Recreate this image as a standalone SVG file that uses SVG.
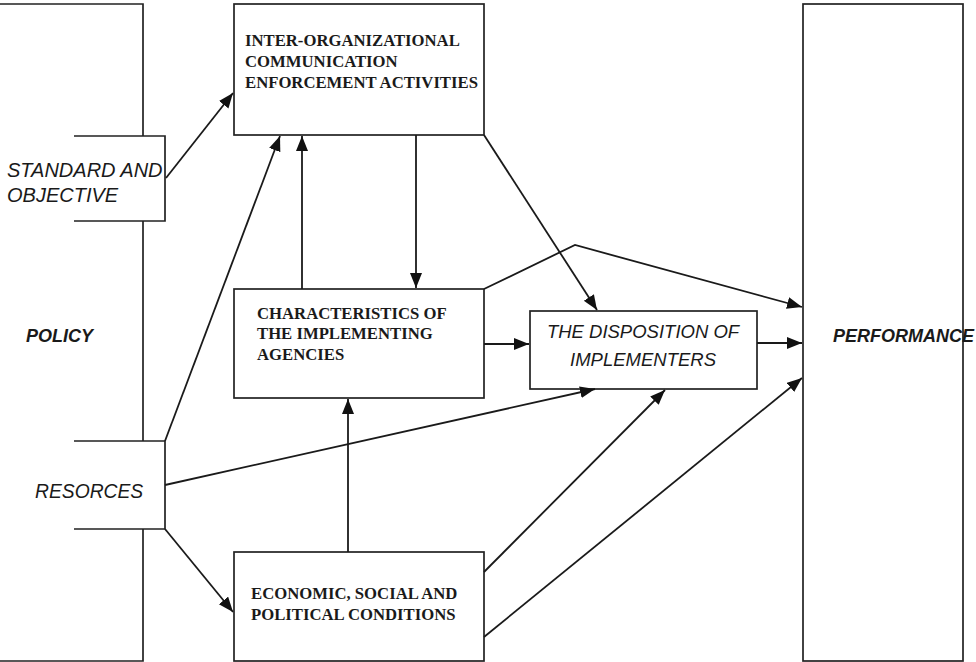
<svg xmlns="http://www.w3.org/2000/svg" width="976" height="662" viewBox="0 0 976 662">
<style>
.box{fill:none;stroke:#222;stroke-width:1.7}
.ln{fill:none;stroke:#1a1a1a;stroke-width:1.8;marker-end:url(#ah)}
.sans{font-family:"Liberation Sans",Arial,sans-serif;fill:#1a1a1a}
.it{font-style:italic;font-size:18.5px}
.bi{font-style:italic;font-weight:bold;font-size:18px}
.serif{font-family:"Liberation Serif","Times New Roman",serif;font-weight:bold;font-size:16.7px;fill:#1a1a1a}
</style>
<defs>
<marker id="ah" markerUnits="userSpaceOnUse" markerWidth="16" markerHeight="13" refX="15" refY="6" orient="auto">
<path d="M0,0 L15,6 L0,12 z" fill="#111"/>
</marker>
</defs>
<rect width="976" height="662" fill="#fff"/>
<g id="policy">
<path class="box" d="M0,4 H143 V136 M143,221 V441 M143,529 V661 H0"/>
<text class="sans bi" x="26" y="342">POLICY</text>
</g>
<g id="standard">
<path class="box" d="M74,136 H165 V221 H74"/>
<text class="sans it" x="7" y="177" style="font-size:20px">STANDARD AND</text>
<text class="sans it" x="7" y="202" style="font-size:20px">OBJECTIVE</text>
</g>
<g id="resources">
<path class="box" d="M74,441 H165 V529 H74"/>
<text class="sans it" x="35" y="498" style="font-size:19.3px">RESORCES</text>
</g>
<g id="inter">
<rect class="box" x="234" y="4" width="250" height="131"/>
<text class="serif" x="245" y="46">INTER-ORGANIZATIONAL</text>
<text class="serif" x="245" y="67">COMMUNICATION</text>
<text class="serif" x="245" y="88">ENFORCEMENT ACTIVITIES</text>
</g>
<g id="characteristics">
<rect class="box" x="234" y="289" width="250" height="109"/>
<text class="serif" x="257" y="319">CHARACTERISTICS OF</text>
<text class="serif" x="257" y="339">THE IMPLEMENTING</text>
<text class="serif" x="257" y="360">AGENCIES</text>
</g>
<g id="economic">
<rect class="box" x="234" y="552" width="250" height="109"/>
<text class="serif" x="251" y="599">ECONOMIC, SOCIAL AND</text>
<text class="serif" x="251" y="620">POLITICAL CONDITIONS</text>
</g>
<g id="disposition">
<rect class="box" x="530" y="311" width="227" height="78"/>
<text class="sans it" x="643" y="338" text-anchor="middle">THE DISPOSITION OF</text>
<text class="sans it" x="643" y="366" text-anchor="middle">IMPLEMENTERS</text>
</g>
<g id="performance">
<rect class="box" x="803" y="4" width="160" height="657"/>
<text class="sans bi" x="833" y="342">PERFORMANCE</text>
</g>
<g id="connectors">
<line class="ln" x1="166" y1="178" x2="233" y2="93"/>
<line class="ln" x1="165" y1="441" x2="280" y2="136"/>
<line class="ln" x1="302" y1="289" x2="302" y2="136"/>
<line class="ln" x1="416" y1="135" x2="416" y2="288"/>
<line class="ln" x1="484" y1="135" x2="597" y2="310"/>
<polyline class="ln" points="484,289 575,245 802,307"/>
<line class="ln" x1="484" y1="344" x2="529" y2="344"/>
<line class="ln" x1="757" y1="343" x2="802" y2="343"/>
<line class="ln" x1="165" y1="485" x2="595" y2="389"/>
<line class="ln" x1="165" y1="529" x2="233" y2="612"/>
<line class="ln" x1="348" y1="552" x2="348" y2="399"/>
<line class="ln" x1="484" y1="572" x2="665" y2="390"/>
<line class="ln" x1="484" y1="637" x2="802" y2="378"/>
</g>
</svg>
